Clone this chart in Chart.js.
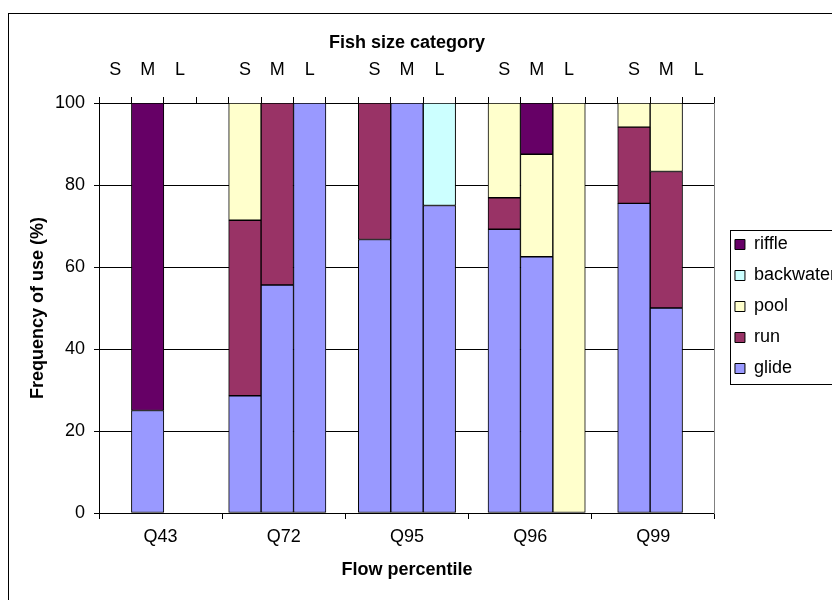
<!DOCTYPE html>
<html>
<head>
<meta charset="utf-8">
<script src="https://cdn.jsdelivr.net/npm/chart.js@4/dist/chart.umd.min.js"></script>
<style>
  html, body { margin: 0; padding: 0; background: #fff; overflow: hidden; }
  #wrap { width: 832px; height: 600px; overflow: hidden; }
</style>
</head>
<body>
<div id="wrap"><canvas id="fishChart" width="870" height="600"></canvas></div>
<script>
// top axis: size classes, bottom axis: flow percentiles
var sizeLabels = ['S', 'M', 'L'];
var flowLabels = ['Q43', 'Q72', 'Q95', 'Q96', 'Q99'];

// % use per habitat, listed S, M, L for each flow percentile
var glide     = [0, 25, 0,   28.6, 55.6, 100,   66.7, 100, 75,   69.2, 62.5, 0,     75.5, 50, 0];
var run       = [0, 0, 0,    42.8, 44.4, 0,     33.3, 0, 0,      7.7, 0, 0,         18.6, 33.3, 0];
var pool      = [0, 0, 0,    28.6, 0, 0,        0, 0, 0,         23.1, 25, 100,     5.9, 16.7, 0];
var backwater = [0, 0, 0,    0, 0, 0,           0, 0, 25,        0, 0, 0,           0, 0, 0];
var riffle    = [0, 75, 0,   0, 0, 0,           0, 0, 0,         0, 12.5, 0,        0, 0, 0];

// one empty slot between the groups
function toSlots(arr) {
    var out = [];
    for (var i = 0; i < arr.length; i++) {
        out.push(arr[i] === 0 ? null : arr[i]);
        if (i % 3 === 2 && i < arr.length - 1) out.push(null);
    }
    return out;
}
var slotLabels = [];
flowLabels.forEach(function (f, i) {
    slotLabels = slotLabels.concat(sizeLabels);
    if (i < flowLabels.length - 1) slotLabels.push('');
});

Chart.defaults.font.family = "'Liberation Sans', Arial, sans-serif";
Chart.defaults.font.size = 18;
Chart.defaults.color = '#000';

var outerBorder = {
    id: 'outerBorder',
    beforeDraw: function (chart) {
        var ctx = chart.ctx;
        ctx.save();
        ctx.fillStyle = '#fff';
        ctx.fillRect(0, 0, chart.width, chart.height);
        ctx.strokeStyle = '#000';
        ctx.lineWidth = 1;
        ctx.strokeRect(8.5, 13.5, 1000, 1000);
        ctx.restore();
    },
    afterDraw: function (chart) {
        var lg = chart.legend;
        var hb = lg.legendHitBoxes;
        if (!hb || !hb.length) return;
        var ctx = chart.ctx;
        var top = hb[0].top - 6;
        var bottom = hb[hb.length - 1].top + hb[hb.length - 1].height + 6;
        ctx.save();
        ctx.strokeStyle = '#000';
        ctx.lineWidth = 1;
        ctx.strokeRect(Math.round(lg.left + 8) + 0.5, Math.round(top) + 0.5, 200, Math.round(bottom - top));
        ctx.restore();
    }
};

function ds(label, values, color) {
    return {
        label: label,
        data: toSlots(values),
        backgroundColor: color,
        borderColor: '#000',
        borderWidth: 1,
        borderSkipped: false,
        xAxisID: 'xTop',
        yAxisID: 'y',
        barPercentage: 1,
        categoryPercentage: 1
    };
}

var ctx = document.getElementById('fishChart').getContext('2d');
var fishChart = new Chart(ctx, {
    type: 'bar',
    data: {
        labels: slotLabels,
        datasets: [
            ds('glide', glide, '#9999FF'),
            ds('run', run, '#993366'),
            ds('pool', pool, '#FFFFCC'),
            ds('backwater', backwater, '#CCFFFF'),
            ds('riffle', riffle, '#660066')
        ]
    },
    options: {
        responsive: false,
        animation: false,
        layout: { padding: { left: 8, top: 13, right: 24, bottom: 0 } },
        plugins: {
            title: { display: false },
            tooltip: { enabled: false },
            legend: {
                position: 'right',
                reverse: true,
                labels: {
                    boxWidth: 10,
                    boxHeight: 10,
                    padding: 13,
                    color: '#000',
                    font: { size: 18 }
                }
            }
        },
        scales: {
            xTop: {
                type: 'category',
                position: 'top',
                stacked: true,
                offset: true,
                grid: { offset: true, drawOnChartArea: false, tickLength: 6, color: '#000' },
                border: { display: true, color: '#000' },
                ticks: { padding: 16, maxRotation: 0, autoSkip: false },
                title: { display: true, text: 'Fish size category', font: { weight: 'bold', size: 18 }, padding: { top: 19, bottom: 0 } },
                afterFit: function (s) { s.height = 90; }
            },
            x: {
                type: 'category',
                position: 'bottom',
                labels: flowLabels,
                offset: true,
                grid: { offset: true, drawOnChartArea: false, tickLength: 6, color: '#000' },
                border: { display: true, color: '#000' },
                ticks: { padding: 7, maxRotation: 0, autoSkip: false },
                title: { display: true, text: 'Flow percentile', font: { weight: 'bold', size: 18 }, padding: { top: 0, bottom: 19 } },
                afterFit: function (s) { s.height = 87; }
            },
            y: {
                stacked: true,
                min: 0,
                max: 100,
                ticks: { stepSize: 20, padding: 9 },
                grid: { color: '#000', tickLength: 5 },
                border: { display: true, color: '#000' },
                title: { display: true, text: 'Frequency of use (%)', font: { weight: 'bold', size: 18 }, padding: { top: 19, bottom: 0 } },
                afterFit: function (s) { s.width = 91; }
            },
            yRight: {
                type: 'linear',
                position: 'right',
                ticks: { display: false },
                grid: { drawOnChartArea: false, drawTicks: false },
                border: { display: true, color: '#808080' },
                afterFit: function (s) { s.width = 7; }
            }
        }
    },
    plugins: [outerBorder]
});
</script>
</body>
</html>
